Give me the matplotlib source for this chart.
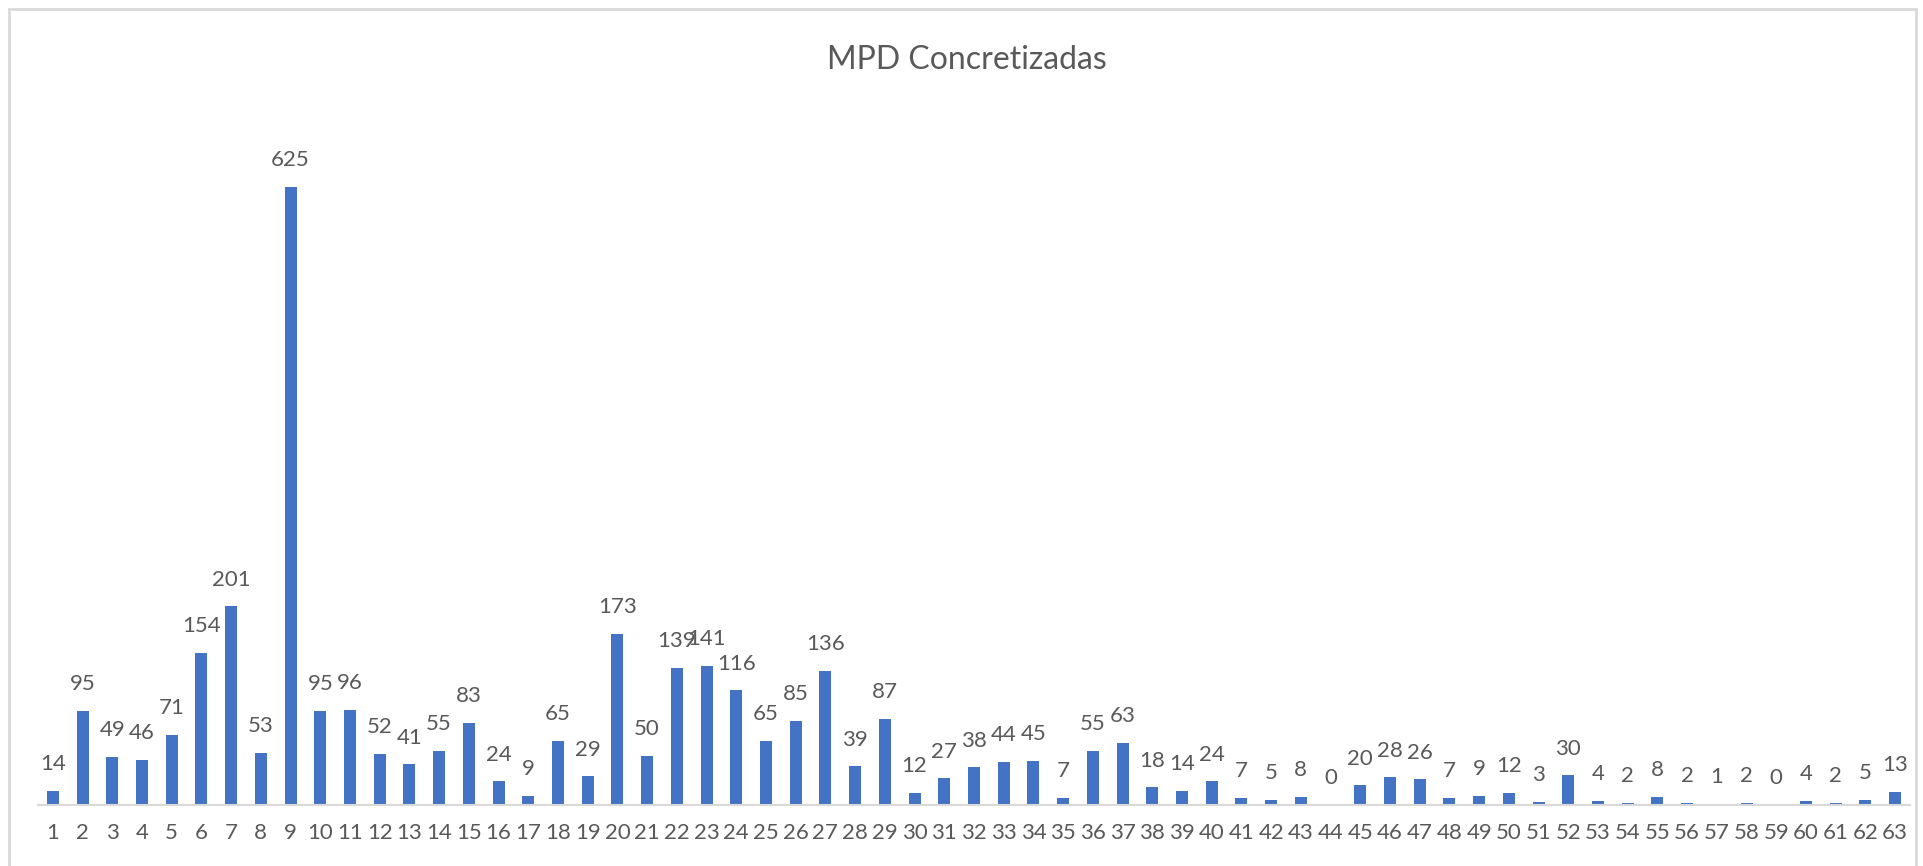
import matplotlib
matplotlib.use('Agg')
import matplotlib.pyplot as plt
from matplotlib.patches import Rectangle

categories = [str(i) for i in range(1, 64)]
values = [14, 95, 49, 46, 71, 154, 201, 53, 625, 95,
          96, 52, 41, 55, 83, 24, 9, 65, 29, 173,
          50, 139, 141, 116, 65, 85, 136, 39, 87, 12,
          27, 38, 44, 45, 7, 55, 63, 18, 14, 24,
          7, 5, 8, 0, 20, 28, 26, 7, 9, 12,
          3, 30, 4, 2, 8, 2, 1, 2, 0, 4,
          2, 5, 13]
title = 'MPD Concretizadas'

bar_color = '#4472C4'
text_color = '#595959'
plt.rcParams['font.family'] = ['Lato', 'DejaVu Sans']

fig = plt.figure(figsize=(19.23, 8.66), dpi=100)
# chart frame
fig.patches.append(Rectangle((9 / 1923, -0.05), (1916 - 9) / 1923, 1.05 - 9 / 866,
                             transform=fig.transFigure, fill=False,
                             edgecolor='#d9d9d9', linewidth=2))

ax = fig.add_axes([38 / 1923, 1 - 805 / 866, (1910 - 38) / 1923, (805 - 113) / 866])
x = list(range(len(categories)))
bars = ax.bar(x, values, width=0.4, color=bar_color)

# value labels, 139/141 overlap as in the original
for xi, v in zip(x, values):
    ax.annotate(str(v), (xi, v), xytext=(0, 12), textcoords='offset points',
                ha='center', va='bottom', fontsize=16, color=text_color)

ax.set_xlim(-0.5, len(categories) - 0.5)
ax.set_ylim(0, 700)
ax.set_xticks(x)
ax.set_xticklabels(categories, fontsize=16, color=text_color)
ax.tick_params(axis='x', length=0, pad=13)
ax.set_yticks([])
for side in ['top', 'right', 'left']:
    ax.spines[side].set_visible(False)
ax.spines['bottom'].set_color('#d9d9d9')
ax.spines['bottom'].set_linewidth(1.5)

fig.text(0.503, 1 - 60 / 866, title, ha='center', va='center', fontsize=23, color=text_color)

fig.savefig('out.png', dpi=100, facecolor='white')
